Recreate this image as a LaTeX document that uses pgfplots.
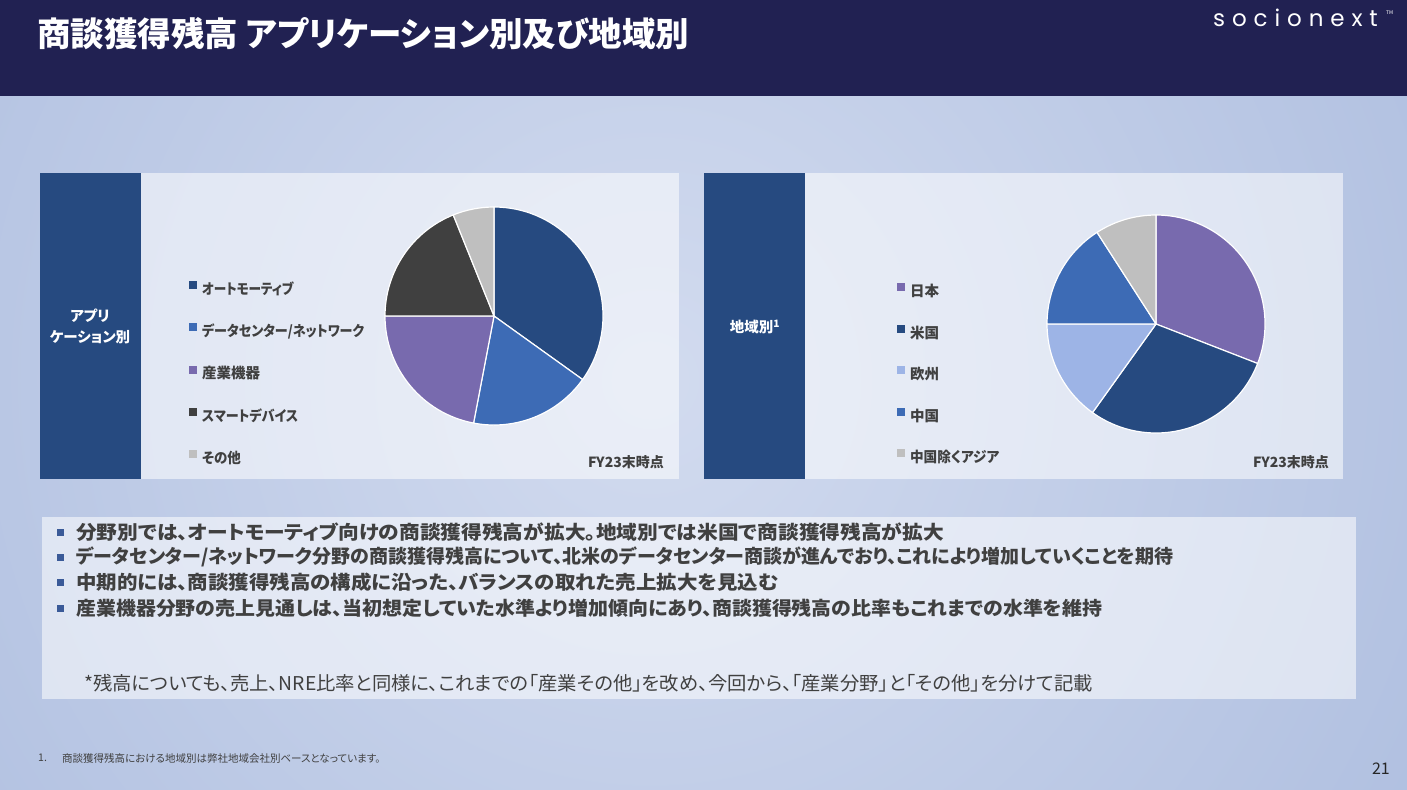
\documentclass[border=0pt]{standalone}
\usepackage{pgfplots}
\pgfplotsset{compat=1.18}
\usepackage{pgfplotstable}
\usepackage{graphicx}
\usepackage{fontspec}
\setmainfont{Noto Sans CJK JP}[RawFeature=+palt]
\newfontfamily\logofont{Poppins}[LetterSpace=30]

\definecolor{header}{HTML}{212152}
\definecolor{bgedge}{HTML}{A4B6DB}
\definecolor{bgcenter}{HTML}{D2DBEF}
\definecolor{navy}{HTML}{264A80}
\definecolor{cAuto}{HTML}{264A80}
\definecolor{cDC}{HTML}{3D6BB5}
\definecolor{cInd}{HTML}{786AAE}
\definecolor{cSmart}{HTML}{404040}
\definecolor{cOther}{HTML}{BFBFBF}
\definecolor{cEu}{HTML}{9DB4E6}
\definecolor{txt}{HTML}{404040}
\definecolor{bullet}{HTML}{3A5A98}

\pgfplotstableread{
name value color
Automotive 34.9 cAuto
DataCenter 18.1 cDC
Industrial 22.0 cInd
SmartDevice 18.9 cSmart
Other 6.1 cOther
}\apptable

\pgfplotstableread{
name value color
Japan 30.9 cInd
US 29.0 cAuto
Europe 15.1 cEu
China 15.9 cDC
AsiaExChina 9.1 cOther
}\regtable

\newcommand\drawpie[1]{%
  \def\cum{0}%
  \pgfplotstablegetrowsof{#1}%
  \pgfmathtruncatemacro\nlast{\pgfplotsretval-1}%
  \pgfplotsforeachungrouped \i in {0,...,\nlast}{%
    \pgfplotstablegetelem{\i}{value}\of#1\let\val\pgfplotsretval
    \pgfplotstablegetelem{\i}{color}\of#1\let\col\pgfplotsretval
    \pgfmathsetmacro\sa{90-3.6*\cum}%
    \pgfmathsetmacro\ea{90-3.6*(\cum+\val)}%
    \pgfmathsetmacro\cum{\cum+\val}%
    \edef\doit{\noexpand\fill[fill=\col, draw=white, line width=1.2bp, line join=round] (axis cs:0,0) -- (axis cs:{cos(\sa)},{sin(\sa)}) arc[start angle=\sa, end angle=\ea, radius=109bp] -- cycle;}%
    \doit
  }%
}

\pgfplotsset{
  piestyle/.style={
    hide axis, x=109bp, y=109bp, xmin=-1, xmax=1, ymin=-1, ymax=1,
    clip=false, anchor=center,
    legend cell align=left,
    legend image code/.code={\fill[##1] (0bp,1.3bp) rectangle (8bp,9.3bp);},
    legend style={anchor=north west, draw=none, fill=none, inner sep=0pt, outer sep=0pt,
      column sep=5bp, text=txt,
      font=\fontsize{14.5bp}{17bp}\selectfont\bfseries,
      nodes={inner sep=0pt, text height=11bp, text depth=3bp}},
  }
}

\begin{document}
\begin{tikzpicture}
\begin{scope}[x=1bp,y=-1bp]
  \path[use as bounding box] (0,0) rectangle (1407,789);
  \begin{scope}
    \clip (0,0) rectangle (1407,789);
    \fill[bgedge] (0,0) rectangle (1407,789);
    \shade[inner color=bgcenter, outer color=bgedge] (650,380) circle (1200);
  \end{scope}
  % header
  \fill[header] (0,0) rectangle (1407,96);
  \node[anchor=west, inner sep=0pt, text=white, font=\fontsize{33.5bp}{38bp}\selectfont\bfseries] at (37,33.5) {商談獲得残高 アプリケーション別及び地域別};
  \node[anchor=base west, inner sep=0pt, text=white, font=\logofont\fontsize{23bp}{26bp}\selectfont] at (1213,27) {socionext};
  \node[anchor=base west, inner sep=0pt, text=white, font=\fontsize{5bp}{6bp}\selectfont] at (1386,15) {TM};
  % panels
  \fill[white, opacity=0.55] (141,173) rectangle (679,479);
  \fill[navy] (40,173) rectangle (141,479);
  \fill[white, opacity=0.55] (805,173) rectangle (1343,479);
  \fill[navy] (704,173) rectangle (805,479);
  \node[align=center, text=white, inner sep=0pt, font=\fontsize{14.5bp}{21bp}\selectfont\bfseries] at (90,326.5) {アプリ\\ケーション別};
  \node[text=white, inner sep=0pt, font=\fontsize{14.5bp}{21bp}\selectfont\bfseries] at (755,327) {地域別\textsuperscript{1}};
  \node[anchor=east, text=txt, inner sep=0pt, font=\fontsize{14bp}{17bp}\selectfont\bfseries] at (664,462) {FY23末時点};
  \node[anchor=east, text=txt, inner sep=0pt, font=\fontsize{14bp}{17bp}\selectfont\bfseries] at (1329,462) {FY23末時点};
  % bottom box
  \fill[white, opacity=0.55] (42,517) rectangle (1356,699);
  \foreach \y in {532,557.3,582.6,608} {\fill[bullet] (57,\y-3.5) rectangle (64,\y+3.5);}
  \begin{scope}[every node/.style={anchor=west, inner sep=0pt, text=txt, font=\fontsize{19bp}{22bp}\selectfont\bfseries}]
    \node at (76,532) {\scalebox{1.09}[1]{分野別では、オートモーティブ向けの商談獲得残高が拡大。地域別では米国で商談獲得残高が拡大}};
    \node at (76,557.3) {\scalebox{1.0}[1]{データセンター/ネットワーク分野の商談獲得残高について、北米のデータセンター商談が進んでおり、これにより増加していくことを期待}};
    \node at (76,582.6) {\scalebox{1.077}[1]{中期的には、商談獲得残高の構成に沿った、バランスの取れた売上拡大を見込む}};
    \node at (76,608) {\scalebox{1.05}[1]{産業機器分野の売上見通しは、当初想定していた水準より増加傾向にあり、商談獲得残高の比率もこれまでの水準を維持}};
  \end{scope}
  \node[anchor=west, inner sep=0pt, text=txt, font=\fontsize{19bp}{22bp}\selectfont] at (84,683) {\scalebox{1.017}[1]{*残高についても、売上、NRE比率と同様に、これまでの「産業その他」を改め、今回から、「産業分野」と「その他」を分けて記載}};
  % footnote
  \node[anchor=west, inner sep=0pt, text=txt, font=\fontsize{10.5bp}{12bp}\selectfont] at (38,758) {1.};
  \node[anchor=west, inner sep=0pt, text=txt, font=\fontsize{10.5bp}{12bp}\selectfont] at (62,758) {商談獲得残高における地域別は弊社地域会社別ベースとなっています。};
  \node[anchor=base east, inner sep=0pt, text=black!85, font=\fontsize{16bp}{18bp}\selectfont] at (1390,774) {21};

  % pies
  \begin{axis}[piestyle, at={(494bp,-316bp)},
      legend style={at={(-0.899,0.660)}, row sep=25.9bp}]
    \drawpie{\apptable}
    \addlegendimage{fill=cAuto, draw=none}
    \addlegendimage{fill=cDC, draw=none}
    \addlegendimage{fill=cInd, draw=none}
    \addlegendimage{fill=cSmart, draw=none}
    \addlegendimage{fill=cOther, draw=none}
    \legend{\scalebox{0.87}[1]{オートモーティブ}, \scalebox{0.9}[1]{データセンター/ネットワーク}, 産業機器, \scalebox{0.9}[1]{スマートデバイス}, \scalebox{0.93}[1]{その他}}
  \end{axis}
  \begin{axis}[piestyle, at={(1156bp,-324bp)},
      legend style={at={(-0.688,0.687)}, row sep=25.25bp}]
    \drawpie{\regtable}
    \addlegendimage{fill=cInd, draw=none}
    \addlegendimage{fill=cAuto, draw=none}
    \addlegendimage{fill=cEu, draw=none}
    \addlegendimage{fill=cDC, draw=none}
    \addlegendimage{fill=cOther, draw=none}
    \legend{日本, 米国, 欧州, 中国, \scalebox{0.94}[1]{中国除くアジア}}
  \end{axis}
\end{scope}
\end{tikzpicture}
\end{document}
